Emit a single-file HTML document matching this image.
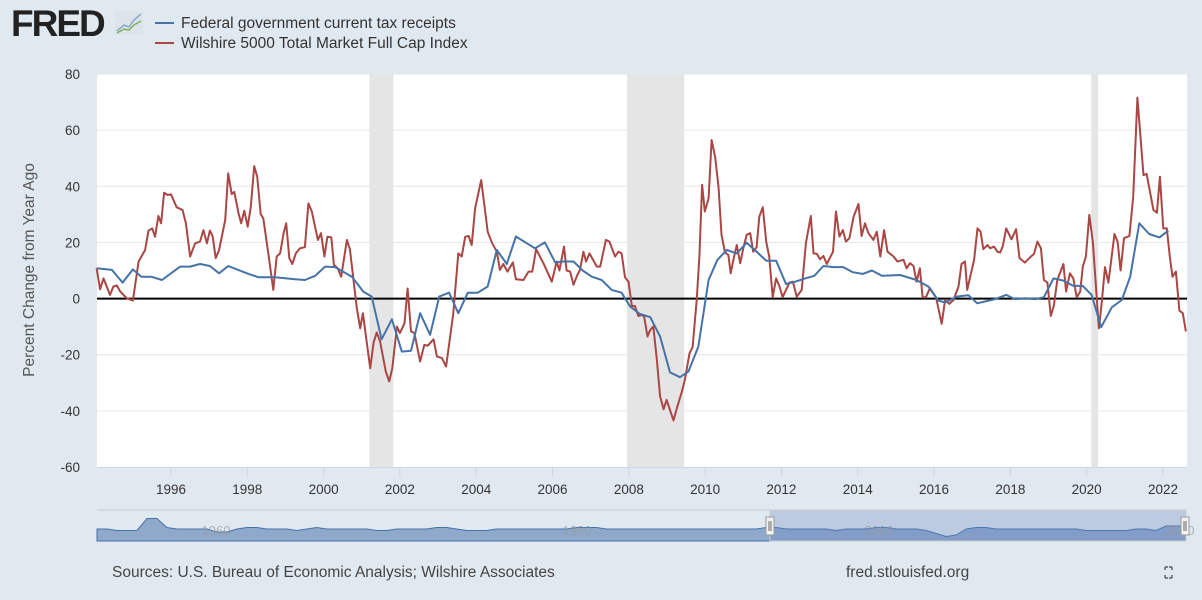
<!DOCTYPE html>
<html><head><meta charset="utf-8">
<style>
html,body{margin:0;padding:0;background:#e1e9f0;}
body{width:1202px;height:595px;overflow:hidden;font-family:"Liberation Sans",sans-serif;}
svg text{font-family:"Liberation Sans",sans-serif;}
</style></head>
<body>
<svg id="chart" width="1202" height="595" xmlns="http://www.w3.org/2000/svg">
  <rect x="0" y="0" width="1202" height="595" fill="#e1e9f0"/>
  <g>
    <text x="11" y="36" font-size="37" font-weight="bold" fill="#222" letter-spacing="-2">FRED</text>
    <rect x="115" y="11" width="28" height="24" fill="#dde3ea"/>
    <polyline points="117,31 124,25 129,27 134,20 141,14" fill="none" stroke="#8aa8c8" stroke-width="1.5"/>
    <polyline points="117,33 124,29 129,30 134,25 141,21" fill="none" stroke="#7bb55e" stroke-width="1.5"/>
  </g>
  <g>
    <g>
      <line x1="155" y1="23" x2="174" y2="23" stroke="#4572a7" stroke-width="2"/>
      <text x="181" y="28" font-size="15.5" fill="#333">Federal government current tax receipts</text>
    </g>
    <g>
      <line x1="155" y1="43" x2="174" y2="43" stroke="#aa4643" stroke-width="2"/>
      <text x="181" y="48" font-size="15.5" fill="#333">Wilshire 5000 Total Market Full Cap Index</text>
    </g>
  </g>
  <rect x="97" y="74" width="1090" height="393" fill="#ffffff"/>
  <g id="recessions"></g>
  <g id="grid"></g>
  <g id="yticks"></g>
  <g id="xticks"></g>
  <text transform="translate(34,270) rotate(-90)" text-anchor="middle" font-size="15.5" fill="#555">Percent Change from Year Ago</text>
  <g id="series"></g>
  <g id="nav"></g>
  <text x="112" y="577" font-size="15.5" fill="#444">Sources: U.S. Bureau of Economic Analysis; Wilshire Associates</text>
  <text x="846" y="577" font-size="15.5" fill="#444">fred.stlouisfed.org</text>
  <g fill="none" stroke="#444" stroke-width="1.2">
    <path d="M1165,567 h3 M1165,567 v3 M1172,567 h-3 M1172,567 v3 M1165,578 h3 M1165,578 v-3 M1172,578 h-3 M1172,578 v-3"/>
  </g>
</svg>
<script>
const blueYears=[1994.05,1994.45,1994.73,1995.0,1995.22,1995.48,1995.76,1996.24,1996.5,1996.76,1997.02,1997.26,1997.5,1998.03,1998.29,1998.73,1999.25,1999.51,1999.78,2000.04,2000.3,2000.74,2001.04,2001.26,2001.52,2001.79,2002.05,2002.29,2002.53,2002.79,2003.03,2003.29,2003.53,2003.78,2004.04,2004.3,2004.54,2004.8,2005.04,2005.54,2005.8,2006.07,2006.28,2006.55,2006.79,2007.03,2007.29,2007.55,2007.81,2008.03,2008.29,2008.56,2008.82,2009.08,2009.34,2009.56,2009.82,2010.09,2010.32,2010.57,2010.83,2011.09,2011.35,2011.6,2011.86,2012.12,2012.36,2012.62,2012.86,2013.1,2013.36,2013.62,2013.87,2014.13,2014.37,2014.63,2015.11,2015.54,2015.85,2016.11,2016.29,2016.59,2016.9,2017.13,2017.6,2017.89,2018.12,2018.38,2018.65,2018.88,2019.13,2019.39,2019.65,2019.9,2020.13,2020.38,2020.66,2020.92,2021.14,2021.38,2021.64,2021.91,2022.14];
const blueValues=[10.8,10.2,5.7,10.4,7.8,7.8,6.6,11.4,11.4,12.3,11.6,9,11.6,8.8,7.6,7.6,6.9,6.6,8.1,11.4,11.2,7.8,2.5,0.7,-14.5,-7.4,-18.9,-18.6,-5.2,-12.9,0.7,2.1,-5.2,2.1,2.1,4.3,17.3,12.3,22.1,17.9,20,12.9,13.2,13.2,10,7.8,6.6,3.1,2.1,-2.8,-5.5,-6.6,-13.5,-26.3,-28,-26,-17.1,6.6,13.8,17.3,16.1,19.9,16.7,13.5,13.5,5.2,6,7.2,8.1,11.6,11.2,11.2,9.4,8.8,10,8.1,8.4,6.6,4.3,-0.7,-1.4,0.7,1.2,-1.7,-0.2,1.3,-0.2,0.1,-0.2,0.5,7.2,6.4,4.5,4.5,1.3,-10.2,-3.1,-0.5,7.8,26.8,23,21.8,24.2];
const redYears=[1994.05,1994.14,1994.23,1994.4,1994.49,1994.58,1994.67,1994.84,1995.0,1995.15,1995.32,1995.41,1995.51,1995.58,1995.67,1995.74,1995.82,1995.91,1996.0,1996.15,1996.3,1996.39,1996.5,1996.63,1996.76,1996.85,1996.94,1997.02,1997.09,1997.17,1997.26,1997.42,1997.5,1997.59,1997.66,1997.77,1997.84,1997.92,1998.01,1998.09,1998.18,1998.26,1998.35,1998.42,1998.55,1998.68,1998.77,1998.86,1998.95,1999.02,1999.1,1999.18,1999.27,1999.38,1999.51,1999.6,1999.69,1999.85,1999.93,2000.02,2000.1,2000.2,2000.27,2000.37,2000.46,2000.61,2000.69,2000.87,2000.96,2001.03,2001.22,2001.31,2001.39,2001.48,2001.63,2001.72,2001.8,2001.92,2002.0,2002.12,2002.2,2002.29,2002.38,2002.53,2002.64,2002.73,2002.88,2002.97,2003.1,2003.21,2003.4,2003.53,2003.62,2003.71,2003.8,2003.88,2003.97,2004.13,2004.3,2004.41,2004.54,2004.62,2004.71,2004.82,2004.96,2005.04,2005.24,2005.37,2005.47,2005.57,2005.76,2005.98,2006.11,2006.18,2006.3,2006.37,2006.46,2006.55,2006.65,2006.72,2006.81,2006.88,2006.97,2007.16,2007.25,2007.4,2007.49,2007.64,2007.73,2007.81,2007.9,2007.99,2008.08,2008.16,2008.25,2008.34,2008.4,2008.49,2008.56,2008.64,2008.73,2008.82,2008.91,2008.99,2009.17,2009.26,2009.39,2009.47,2009.59,2009.67,2009.78,2009.85,2009.92,2009.99,2010.09,2010.17,2010.26,2010.35,2010.43,2010.52,2010.61,2010.67,2010.74,2010.83,2010.92,2011.0,2011.09,2011.18,2011.26,2011.35,2011.42,2011.51,2011.6,2011.68,2011.77,2011.86,2011.95,2012.03,2012.12,2012.21,2012.3,2012.4,2012.53,2012.64,2012.77,2012.84,2012.93,2013.01,2013.1,2013.19,2013.35,2013.43,2013.52,2013.61,2013.69,2013.78,2013.89,2014.02,2014.1,2014.19,2014.28,2014.41,2014.5,2014.59,2014.69,2014.78,2014.94,2015.04,2015.2,2015.28,2015.37,2015.46,2015.54,2015.63,2015.7,2015.79,2015.89,2016.05,2016.2,2016.29,2016.4,2016.51,2016.64,2016.72,2016.81,2016.87,2017.05,2017.14,2017.22,2017.29,2017.4,2017.47,2017.57,2017.66,2017.73,2017.8,2017.89,2018.03,2018.15,2018.24,2018.38,2018.52,2018.62,2018.71,2018.8,2018.88,2018.97,2019.06,2019.14,2019.23,2019.39,2019.46,2019.56,2019.65,2019.74,2019.83,2019.9,2019.98,2020.07,2020.16,2020.32,2020.39,2020.48,2020.57,2020.73,2020.81,2020.89,2020.98,2021.12,2021.22,2021.33,2021.49,2021.57,2021.75,2021.84,2021.92,2022.01,2022.1,2022.18,2022.25,2022.34,2022.43,2022.52,2022.6];
const redValues=[10.8,3.3,7.2,1.3,4.3,4.7,2.5,0.1,-0.7,13.2,17.3,24.2,25,22,29.4,26.8,37.7,36.9,37.1,32.5,31.6,26.8,15,19.7,20.3,24.4,19.7,24.2,22.3,14.4,17.3,28,44.6,37.2,38,30.4,26.8,31.3,25.6,32.7,47.2,43.4,30.1,28.6,16.1,3.1,15,16.1,23.3,26.8,14.4,12.3,16.1,17.9,18.3,33.9,31,20.9,23.3,15,22,21.8,12,10.8,7.8,20.9,17.6,-3.4,-10.6,-5.2,-24.8,-15.7,-12.1,-15.3,-26,-29.5,-24.8,-10,-12.3,-8.8,3.6,-11.7,-12.3,-22.4,-16.5,-16.8,-14.5,-20.6,-21.2,-24.2,-5.2,16.1,15,22,22.3,19.1,32.1,42.2,23.8,19.9,16.7,10.2,12.3,9.6,12.9,6.9,6.6,9.6,9.6,17.6,12.6,6,13.2,10,18.5,10,9.6,4.9,8.4,10.2,16.7,13.2,16.1,11.4,11.4,20.9,20.3,15,16.7,16.1,7.6,6,-2.8,-2.6,-6.2,-5.8,-6.4,-13.5,-11.2,-10,-21.2,-34.9,-39.4,-36.1,-43.4,-39,-33.1,-28.9,-19.5,-17.3,-0.5,15,40.5,31,35.7,56.5,50.5,39.9,22.7,16.4,15.5,9,13.8,19.1,12.6,17.9,22.7,23.3,16.7,18.3,29.2,32.5,20.3,15,0.5,7.2,4.3,0.5,3.1,5.7,6,0.7,3.1,19.7,29.4,16.1,15.9,14,15.2,12.3,16.7,31,22.1,24.4,20.3,21.5,29.2,33.7,22.3,26.8,23.3,20.9,23.8,15,24.4,16.7,15,13.2,13.8,10.8,12.6,11.6,6,10.8,0.5,0.5,3.7,0.5,-9,-0.5,-1.9,-0.5,4.3,12.3,13.2,3.1,13.8,25,23.8,17.6,19.1,17.9,18.5,16.7,16.4,18.5,25,21.1,24.7,14.4,12.8,14.7,15.9,20.3,17.9,6.6,5.7,-6.2,-2.6,6.6,12.3,2.5,9,7.2,0.5,2.5,11.4,15,29.8,20.3,-10.6,-2.3,11.2,5.7,23,20.3,10,21.5,22.3,36.3,71.6,44,44.4,31.6,30.6,43.4,25,25,15,7.8,9.6,-4.3,-5.2,-11.7];
const recessionStarts=[2001.2,2007.95,2020.12];
const recessionEnds=[2001.83,2009.45,2020.3];
const yTicks=[-60,-40,-20,0,20,40,60,80];
const xTickYears=[1996,1998,2000,2002,2004,2006,2008,2010,2012,2014,2016,2018,2020,2022];
const navValues=[8,8,7,7,7,15,15,9,8,8,8,8,6,6,8,9,9,8,8,8,7,8,9,8,8,8,8,8,7,7,8,8,8,8,9,9,8,7,7,7,8,8,8,8,8,8,8,8,9,9,9,8,8,8,8,8,8,8,8,8,8,8,8,8,8,8,8,9,9,8,8,8,8,8,7,8,8,8,9,9,8,8,8,7,5,3,4,8,9,9,8,8,8,8,8,8,8,8,8,7,7,7,7,7,8,8,7,10,10,10];

const NS='http://www.w3.org/2000/svg';
const X0=97,X1=1187,Y0=74,Y1=467,YEAR0=1994.06,YEAR1=2022.63,VMIN=-60,VMAX=80;
function xs(yr){return X0+(yr-YEAR0)/(YEAR1-YEAR0)*(X1-X0);}
function ys(v){return Y1-(v-VMIN)/(VMAX-VMIN)*(Y1-Y0);}
function mk(tag,attrs,parent){const e=document.createElementNS(NS,tag);for(const k in attrs)e.setAttribute(k,attrs[k]);parent.appendChild(e);return e;}

const rec=document.getElementById('recessions');
for(let i=0;i<recessionStarts.length;i++){
  const r=mk('rect',{x:xs(recessionStarts[i]),y:Y0,width:xs(recessionEnds[i])-xs(recessionStarts[i]),height:Y1-Y0,fill:'#e5e5e5'},rec);
  
  
}
const grid=document.getElementById('grid');
const yt=document.getElementById('yticks');
yTicks.forEach(v=>{
  if(v!==VMIN){const l=mk('line',{x1:X0,x2:X1,y1:ys(v),y2:ys(v),stroke:'#e6e6e6','stroke-width':1},grid);
  
  }
  const t=mk('text',{x:80,y:ys(v)+5,'text-anchor':'end','font-size':13.5,fill:'#333'},yt);
  t.textContent=v;
  
  
});
const xt=document.getElementById('xticks');
const ax=mk('line',{x1:X0,x2:X1,y1:Y1+0.5,y2:Y1+0.5,stroke:'#ccd6eb','stroke-width':1},xt);


xTickYears.forEach(yr=>{
  const x=xs(yr);
  const tk=mk('line',{x1:x,x2:x,y1:Y1,y2:Y1+10,stroke:'#ccd6eb','stroke-width':1},xt);
  
  
  const t=mk('text',{x:x,y:494,'text-anchor':'middle','font-size':13.5,fill:'#333'},xt);
  t.textContent=yr;
  
  
});
const ser=document.getElementById('series');
const zl=mk('line',{x1:X0,x2:X1,y1:ys(0),y2:ys(0),stroke:'#000','stroke-width':2},ser);


function pts(yrs,vals){return yrs.map((y,i)=>xs(y).toFixed(1)+','+ys(vals[i]).toFixed(1)).join(' ');}
const red=mk('polyline',{points:pts(redYears,redValues),fill:'none',stroke:'#aa4643','stroke-width':2,'stroke-linejoin':'round'},ser);


const blue=mk('polyline',{points:pts(blueYears,blueValues),fill:'none',stroke:'#4572a7','stroke-width':2,'stroke-linejoin':'round'},ser);



// navigator
const nav=document.getElementById('nav');
const NY0=510,NY1=541;
const nl=mk('line',{x1:X0,x2:1187,y1:NY0,y2:NY0,stroke:'#cccccc','stroke-width':1},nav);


let d='M'+X0+','+NY1;
navValues.forEach((v,i)=>{const x=X0+i/(navValues.length-1)*(1186-X0);d+=' L'+x.toFixed(1)+','+(NY1-v*1.5).toFixed(1);});
d+=' L1186,'+NY1+' Z';
const area=mk('path',{d:d,fill:'#8fa9cb',stroke:'#4572a7','stroke-width':1},nav);


const sel=mk('rect',{x:770,y:NY0,width:416,height:NY1-NY0,fill:'rgba(102,133,194,0.3)',stroke:'#ccc','stroke-width':1},nav);


[['1960',216],['1980',577],['2000',879],['2020',1180]].forEach(a=>{
  const t=mk('text',{x:a[1],y:535,'text-anchor':'middle','font-size':13,fill:'#999','fill-opacity':0.7},nav);
  t.textContent=a[0];
  
  
});
[770,1185].forEach(x=>{
  const h=mk('rect',{x:x-4,y:517,width:8,height:18,fill:'#f2f2f2',stroke:'#999','stroke-width':1},nav);
  
  
  mk('line',{x1:x-1,x2:x-1,y1:521,y2:531,stroke:'#666'},nav);
  mk('line',{x1:x+1,x2:x+1,y1:521,y2:531,stroke:'#666'},nav);
});
</script>
</body></html>
